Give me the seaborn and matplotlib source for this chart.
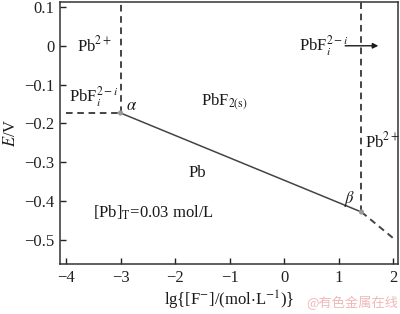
import matplotlib
matplotlib.use("Agg")
import matplotlib.pyplot as plt
import seaborn as sns
import pandas as pd

# boundary data (lg[F-], E/V)
solid_x = [-3.0, 1.42]
solid_E = [-0.173, -0.428]
h_dash_x = [-4.0, -3.0]
h_dash_E = [-0.173, -0.173]
v1_dash_x = [-3.0, -3.0]
v1_dash_E = [-0.173, 0.115]
v2_dash_x = [1.42, 1.42]
v2_dash_E = [-0.428, 0.115]
tail_dash_x = [1.42, 2.0]
tail_dash_E = [-0.428, -0.495]
point_x = [-3.0, 1.42]
point_E = [-0.173, -0.428]

x_ticks = [-4, -3, -2, -1, 0, 1, 2]
y_ticks = [0.1, 0, -0.1, -0.2, -0.3, -0.4, -0.5]

sns.set_style("ticks")
plt.rcParams['font.family'] = ['Liberation Serif', 'DejaVu Serif']
plt.rcParams['mathtext.fontset'] = 'stix'
plt.rcParams['axes.unicode_minus'] = True

fig = plt.figure(figsize=(4.0, 3.14), dpi=100)
ax = fig.add_axes([0.15, 0.159, 0.845, 0.835])

lc = '#444444'
sns.lineplot(x=solid_x, y=solid_E, ax=ax, color=lc, lw=1.1, estimator=None, sort=False)
for xs, ys in [(h_dash_x, h_dash_E), (v1_dash_x, v1_dash_E),
               (v2_dash_x, v2_dash_E), (tail_dash_x, tail_dash_E)]:
    sns.lineplot(x=xs, y=ys, ax=ax, color=lc, lw=1.4, linestyle=(0, (3.4, 2.4)),
                 estimator=None, sort=False)
sns.scatterplot(x=point_x, y=point_E, ax=ax, color='#999999', s=14, edgecolor='none', zorder=5)

ax.set_xlim(-4.11, 2.09)
ax.set_ylim(-0.562, 0.113)
ax.set_xticks(x_ticks)
ax.set_yticks(y_ticks)
ax.set_xticklabels(['\u22124', '\u22123', '\u22122', '\u22121', '0', '1', '2'])
ax.set_yticklabels(['0.1', '0', '\u22120.1', '\u22120.2', '\u22120.3', '\u22120.4', '\u22120.5'])
ax.tick_params(direction='in', length=4, width=1, labelsize=12, colors='#222222', pad=4)
for s in ax.spines.values():
    s.set_color('#333333')
    s.set_linewidth(1.1)

fs = 12
tc = '#1a1a1a'
ax.text(-3.8, 0.0, r'Pb$^{2+}$', fontsize=fs, color=tc, va='center')
ax.text(-3.95, -0.13, r'PbF$_i^{2-i}$', fontsize=fs, color=tc, va='center')
ax.text(-2.9, -0.155, r'$\alpha$', fontsize=fs, color=tc, va='center')
ax.text(-1.52, -0.145, r'PbF$_{2(\mathrm{s})}$', fontsize=fs, color=tc, va='center')
ax.text(-1.75, -0.328, 'Pb', fontsize=fs, color=tc, va='center')
ax.text(-3.5, -0.43, r'[Pb]$_\mathrm{T}$=0.03 mol/L', fontsize=fs, color=tc, va='center')
ax.text(1.1, -0.395, r'$\beta$', fontsize=fs, color=tc, va='center')
ax.text(0.28, 0.0, r'PbF$_i^{2-i}$', fontsize=fs, color=tc, va='center')
ax.annotate('', xy=(1.78, 0.0), xytext=(1.07, 0.0),
            arrowprops=dict(arrowstyle='-|>', color=tc, lw=1.0, mutation_scale=8))
ax.text(1.49, -0.245, r'Pb$^{2+}$', fontsize=fs, color=tc, va='center')

ax.set_xlabel(r'lg{[F$^{-}$]/(mol$\cdot$L$^{-1}$)}', fontsize=12, color=tc, labelpad=2)
ax.set_ylabel(r'$E$/V', fontsize=12, color=tc, labelpad=4)

fig.text(0.765, 0.035, '@有色金属在线', fontsize=9.5, color='#f0b8b8',
         family=['Noto Sans CJK SC', 'DejaVu Sans'], va='center')

fig.savefig('out.png', dpi=100)
